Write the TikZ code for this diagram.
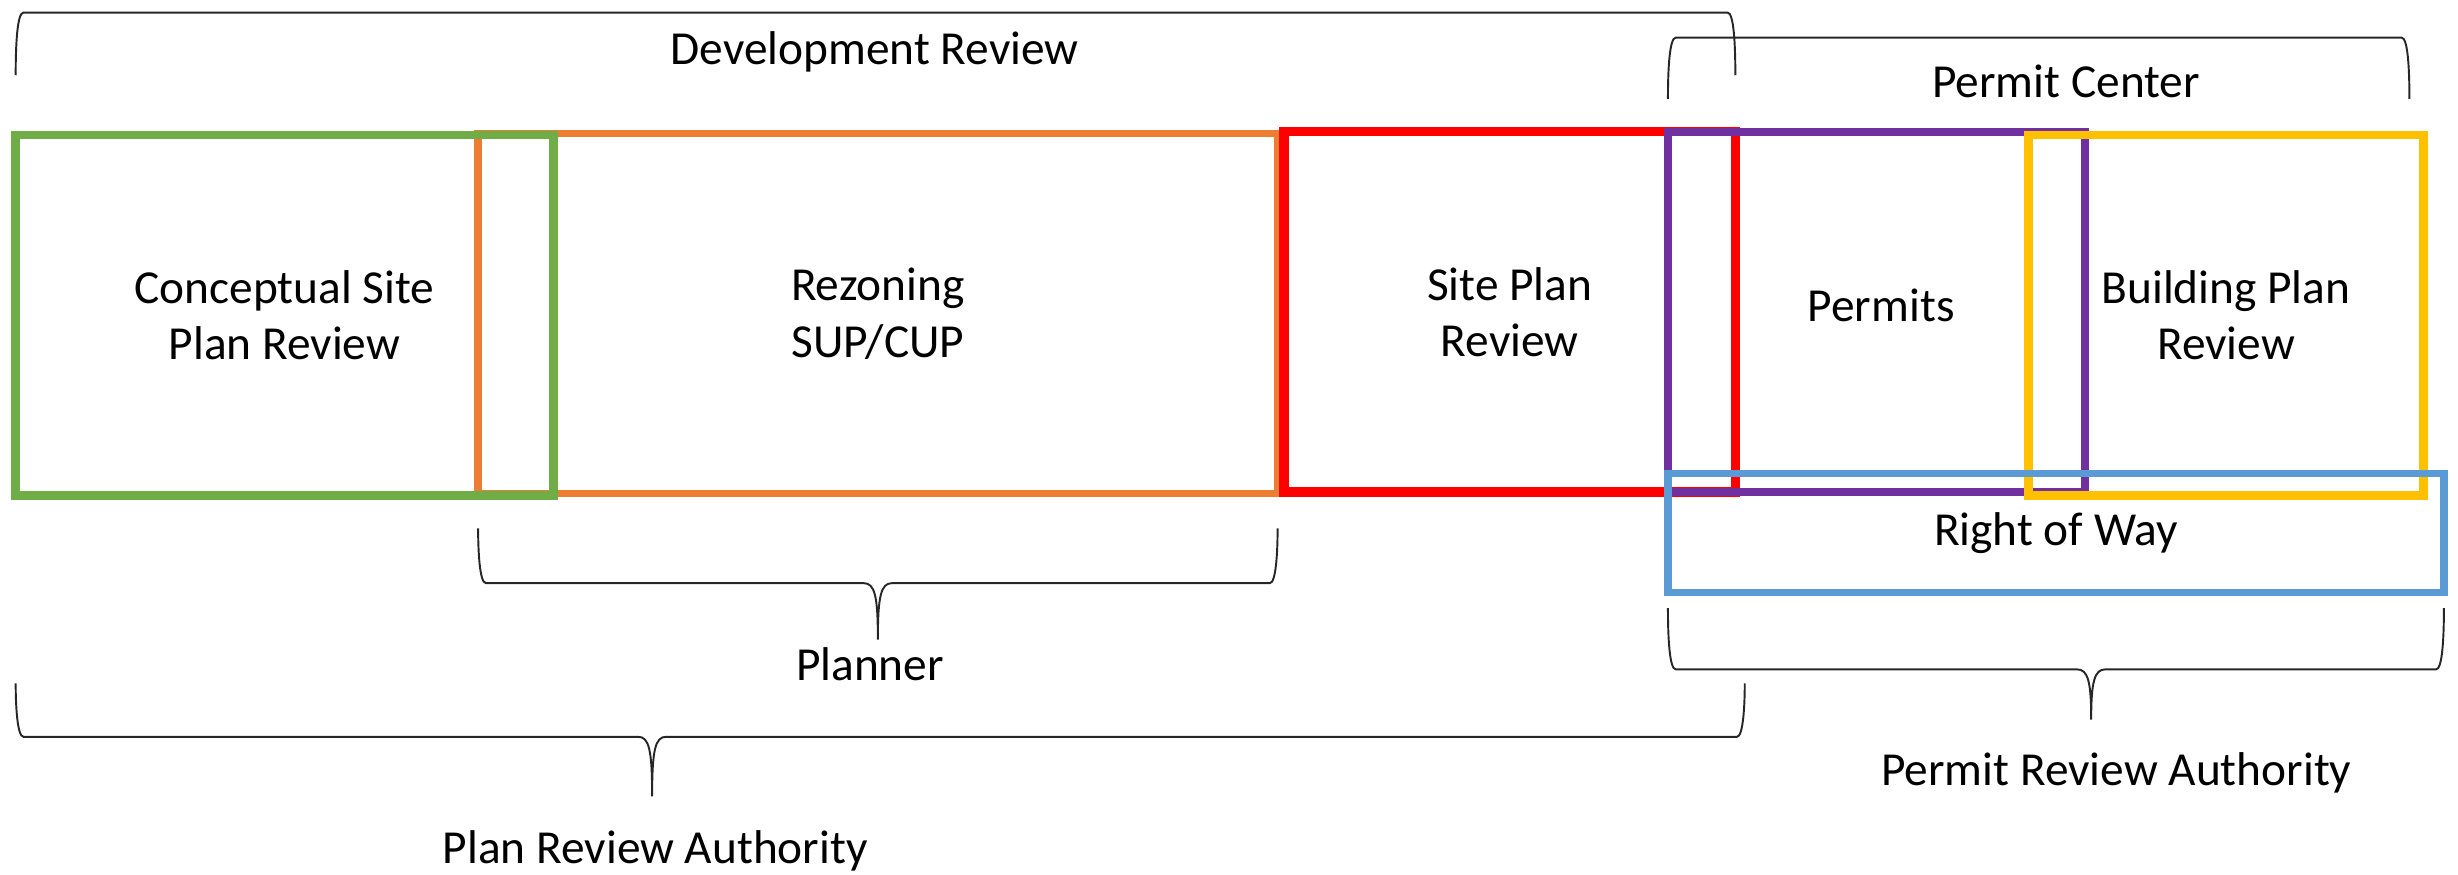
\documentclass[tikz,border=0pt]{standalone}
\usepackage{fontspec}
\setmainfont{Carlito}
\definecolor{cgreen}{HTML}{70AD47}
\definecolor{corange}{HTML}{ED7D31}
\definecolor{cred}{HTML}{FF0000}
\definecolor{cpurple}{HTML}{7030A0}
\definecolor{cyellow}{HTML}{FFC000}
\definecolor{cblue}{HTML}{5B9BD5}
\newcommand{\ubrace}[6]{%
  \draw[bracel] (#1,#4) .. controls (#1,#5-20) and (#1+1,#5) .. (#1+5,#5)
    -- (#3-9,#5) .. controls (#3-2,#5) and (#3,#5+8) .. (#3,#6)
    .. controls (#3,#5+8) and (#3+2,#5) .. (#3+9,#5)
    -- (#2-5,#5) .. controls (#2-1,#5) and (#2,#5-20) .. (#2,#4);}
\newcommand{\obrace}[4]{%
  \draw[bracel] (#1,#4) .. controls (#1,#3+20) and (#1+1,#3) .. (#1+5,#3)
    -- (#2-5,#3) .. controls (#2-1,#3) and (#2,#3+20) .. (#2,#4);}
\begin{document}
\begin{tikzpicture}[x=0.02cm,y=-0.02cm,
  font=\fontsize{17.2}{20.5}\selectfont,
  box/.style={draw=#1, line width=0.11cm, rectangle, align=center, inner sep=0pt, outer sep=0pt},
  lbl/.style={inner sep=0pt, align=center},
  bracel/.style={line width=0.7pt, draw=black!85}]
\useasboundingbox (0,0) rectangle (1568,558);
% boxes (drawing order matters)
\node[box=corange, line width=0.095cm, minimum width=10.2cm, minimum height=4.6cm] (rez) at (560,200) {Rezoning\\SUP/CUP};
\node[box=cgreen, minimum width=6.86cm, minimum height=4.6cm] (csp) at (181.5,201) {Conceptual Site\\Plan Review};
\node[box=cred, line width=0.12cm, minimum width=5.76cm, minimum height=4.6cm] (spr) at (963,199) {Site Plan\\Review};
\node[box=cpurple, line width=0.1cm, minimum width=5.32cm, minimum height=4.6cm] (perm) at (1197,199) {};
\node[lbl] (permt) at (1200,195) {Permits};
\node[box=cyellow, minimum width=5.04cm, minimum height=4.6cm] (bpr) at (1420,201) {Building Plan\\Review};
\node[box=cblue, line width=0.1cm, minimum width=9.9cm, minimum height=1.52cm] (row) at (1311.5,340) {Right of Way};
% top braces
\obrace{10}{1107}{8}{48}
\node[lbl] (dev) at (558,33) {Development Review};
\obrace{1064}{1537}{24}{63}
\node[lbl] (pc) at (1318,52) {Permit Center};
% bottom braces
\ubrace{305}{815}{560}{337}{372}{408}
\node[lbl] (plnr) at (555,424) {Planner};
\ubrace{1064}{1559}{1334}{388}{427}{459}
\node[lbl] (pra) at (1350,493) {Permit Review Authority};
\ubrace{10}{1113}{416}{436}{470}{508}
\node[lbl] (plra) at (418,543) {Plan Review Authority};
\end{tikzpicture}
\end{document}
